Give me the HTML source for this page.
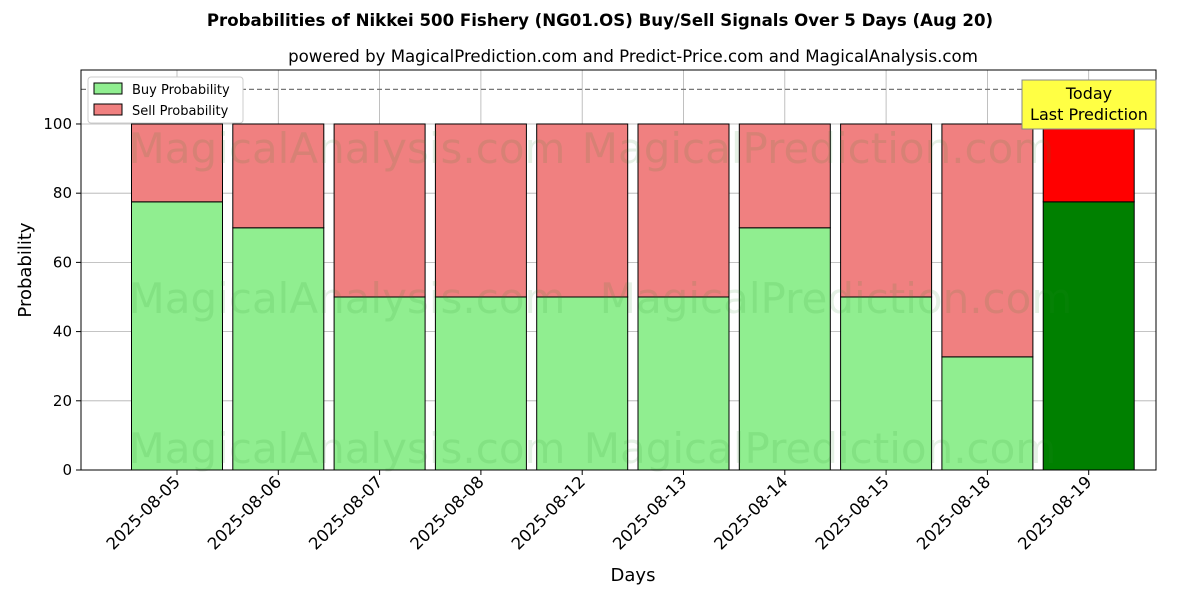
<!DOCTYPE html>
<html><head><meta charset="utf-8"><style>
body{margin:0;background:#fff;font-family:"DejaVu Sans","Liberation Sans",sans-serif;}
svg text{font-family:"DejaVu Sans","Liberation Sans",sans-serif;}
</style></head><body>
<svg id="chart" width="1200" height="600" xmlns="http://www.w3.org/2000/svg">
<g id="grid"></g>
<g id="bars"></g>
<g id="wm" fill="#2a8a2a" fill-opacity="0.12" font-size="42">
<text x="347" y="163" text-anchor="middle">MagicalAnalysis.com</text>
<text x="818" y="163" text-anchor="middle">MagicalPrediction.com</text>
<text x="347" y="313" text-anchor="middle">MagicalAnalysis.com</text>
<text x="836" y="313" text-anchor="middle">MagicalPrediction.com</text>
<text x="347" y="463" text-anchor="middle">MagicalAnalysis.com</text>
<text x="820" y="463" text-anchor="middle">MagicalPrediction.com</text>
</g>
<g id="axes"></g>
<text x="600" y="26" text-anchor="middle" font-size="16.6" font-weight="bold">Probabilities of Nikkei 500 Fishery (NG01.OS) Buy/Sell Signals Over 5 Days (Aug 20)</text>
<text x="633" y="62" text-anchor="middle" font-size="16.6">powered by MagicalPrediction.com and Predict-Price.com and MagicalAnalysis.com</text>
<text x="633" y="581" text-anchor="middle" font-size="18">Days</text>
<text transform="translate(31,270) rotate(-90)" text-anchor="middle" font-size="18">Probability</text>
<g>
<rect x="88" y="77" width="155" height="46" fill="#fff" stroke="#ccc" rx="3"/>
<rect x="94" y="83" width="28" height="11" fill="lightgreen" stroke="#000"/>
<text x="132" y="94" font-size="13">Buy Probability</text>
<rect x="94" y="104" width="28" height="11" fill="lightcoral" stroke="#000"/>
<text x="132" y="115" font-size="13">Sell Probability</text>
</g>
<g>
<rect x="1022" y="80" width="134" height="49" fill="#ffff44" stroke="#888"/>
<text x="1089" y="99" text-anchor="middle" font-size="16">Today</text>
<text x="1089" y="120" text-anchor="middle" font-size="16">Last Prediction</text>
</g>
</svg>
<script>
const categories=["2025-08-05","2025-08-06","2025-08-07","2025-08-08","2025-08-12","2025-08-13","2025-08-14","2025-08-15","2025-08-18","2025-08-19"];
const buyValues=[77.5,70,50,50,50,50,70,50,32.7,77.5];
const sellValues=[22.5,30,50,50,50,50,30,50,67.3,22.5];
const yTicks=[0,20,40,60,80,100];
const NS="http://www.w3.org/2000/svg";
const L=81,R=1156,T=70,B=470,yMax=115.6;
const y=v=>B-(B-T)*v/yMax;
const x=i=>177+i*101.3;
const bw=91;
function mk(tag,a,p){const e=document.createElementNS(NS,tag);for(const k in a)e.setAttribute(k,a[k]);p.appendChild(e);return e;}
const grid=document.getElementById('grid'),bars=document.getElementById('bars'),axes=document.getElementById('axes');
yTicks.forEach(t=>{
 const g=mk('line',{x1:L,x2:R,y1:y(t),y2:y(t),stroke:'#b0b0b0','stroke-width':0.8},grid);
 
 
 mk('line',{x1:L-5,x2:L,y1:y(t),y2:y(t),stroke:'#000'},axes);
 const tx=mk('text',{x:L-9,y:y(t)+5,'text-anchor':'end','font-size':15},axes);tx.textContent=t;
 
 
});
categories.forEach((c,i)=>{
 const g=mk('line',{x1:x(i),x2:x(i),y1:T,y2:B,stroke:'#b0b0b0','stroke-width':0.8},grid);
 
 
 const last=i===categories.length-1;
 const b=mk('rect',{x:x(i)-bw/2,y:y(buyValues[i]),width:bw,height:y(0)-y(buyValues[i]),fill:last?'green':'lightgreen',stroke:'#000','stroke-width':1},bars);
 
 
 const s=mk('rect',{x:x(i)-bw/2,y:y(buyValues[i]+sellValues[i]),width:bw,height:y(buyValues[i])-y(buyValues[i]+sellValues[i]),fill:last?'red':'lightcoral',stroke:'#000','stroke-width':1},bars);
 
 
 mk('line',{x1:x(i),x2:x(i),y1:B,y2:B+5,stroke:'#000'},axes);
 const tx=mk('text',{transform:`translate(${x(i)+4},${B+13}) rotate(-45)`,'text-anchor':'end','font-size':16.5},axes);tx.textContent=c;
 
 
});
const d=mk('line',{x1:L,x2:R,y1:y(110),y2:y(110),stroke:'#777','stroke-dasharray':'5,3','stroke-width':1.2},axes);


const f=mk('rect',{x:L,y:T,width:R-L,height:B-T,fill:'none',stroke:'#000','stroke-width':1},axes);


</script>
</body></html>
